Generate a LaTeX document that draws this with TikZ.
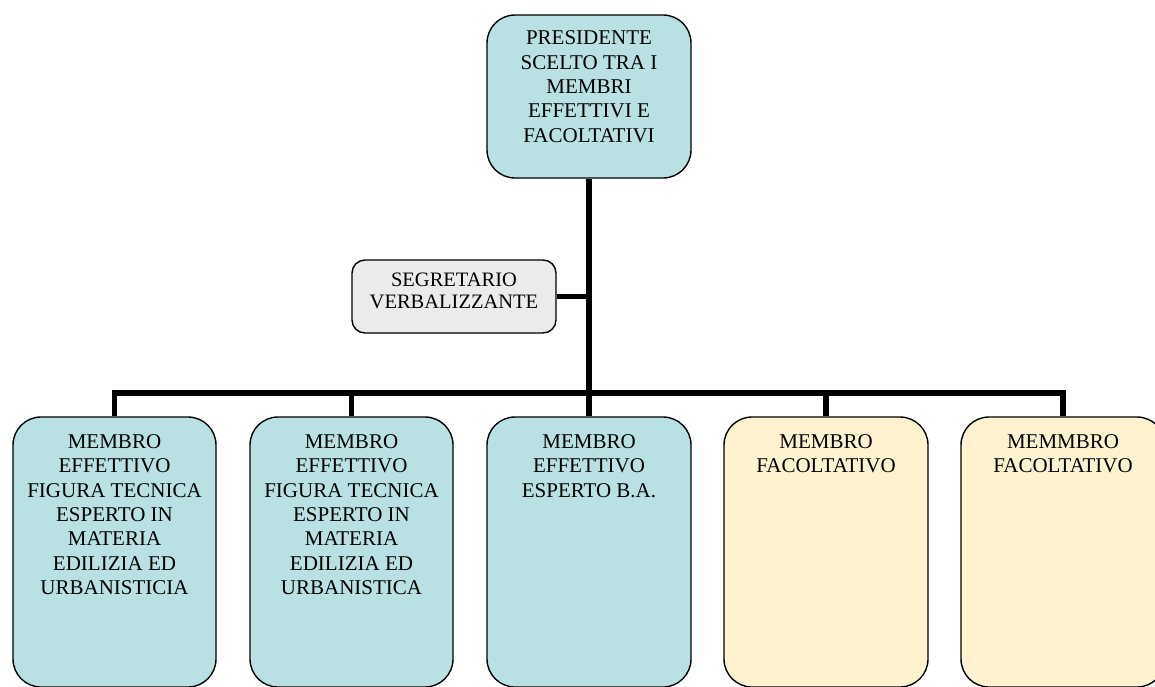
\documentclass[tikz,border=0pt]{standalone}
\usepackage{fontspec}
\setmainfont{Liberation Serif}
\definecolor{boxteal}{RGB}{185,224,227}
\definecolor{boxyellow}{RGB}{255,242,206}
\definecolor{boxgray}{RGB}{235,235,235}
\newcommand{\boxtxt}[4]{\parbox[c][#2][t]{#1}{\vspace*{#3}\centering #4}}
\begin{document}
\begin{tikzpicture}[x=1pt,y=-1pt,
  card/.style={draw=black, line width=1.4pt, rounded corners=28pt, inner sep=0pt,
    font=\fontsize{21}{24.3}\selectfont},
  smallcard/.style={card, rounded corners=13pt, font=\fontsize{20.5}{22}\selectfont},
  conn/.style={draw=black, line width=5.5pt, line join=miter}]
\useasboundingbox (0,0) rectangle (1155,686);

\node[card, fill=boxteal] (pres) at (589,96.5)
  {\boxtxt{204pt}{163pt}{16pt}{PRESIDENTE\\SCELTO TRA I\\MEMBRI\\EFFETTIVI E\\FACOLTATIVI}};
\node[smallcard, fill=boxgray] (seg) at (454,296.5)
  {\boxtxt{204pt}{73pt}{13pt}{SEGRETARIO\\VERBALIZZANTE}};

\node[card, fill=boxteal] (m1) at (114.5,552)
  {\boxtxt{203pt}{270pt}{17.7pt}{MEMBRO\\EFFETTIVO\\FIGURA TECNICA\\ESPERTO IN\\MATERIA\\EDILIZIA ED\\URBANISTICIA}};
\node[card, fill=boxteal] (m2) at (351.5,552)
  {\boxtxt{203pt}{270pt}{17.7pt}{MEMBRO\\EFFETTIVO\\FIGURA TECNICA\\ESPERTO IN\\MATERIA\\EDILIZIA ED\\URBANISTICA}};
\node[card, fill=boxteal] (m3) at (589,552)
  {\boxtxt{204pt}{270pt}{17.7pt}{MEMBRO\\EFFETTIVO\\ESPERTO B.A.}};
\node[card, fill=boxyellow] (m4) at (826,552)
  {\boxtxt{204pt}{270pt}{17.7pt}{MEMBRO\\FACOLTATIVO}};
\node[card, fill=boxyellow] (m5) at (1063,552)
  {\boxtxt{204pt}{270pt}{17.7pt}{MEMMBRO\\FACOLTATIVO}};

\coordinate (bus) at (589,393);
\draw[conn] (pres.south) -- (m3.north);
\draw[conn] (bus) -| (m1.north);
\draw[conn] (bus) -| (m2.north);
\draw[conn] (bus) -| (m4.north);
\draw[conn] (bus) -| (m5.north);
\draw[conn] (seg.east) -- (seg.east -| pres.south);
\end{tikzpicture}
\end{document}
